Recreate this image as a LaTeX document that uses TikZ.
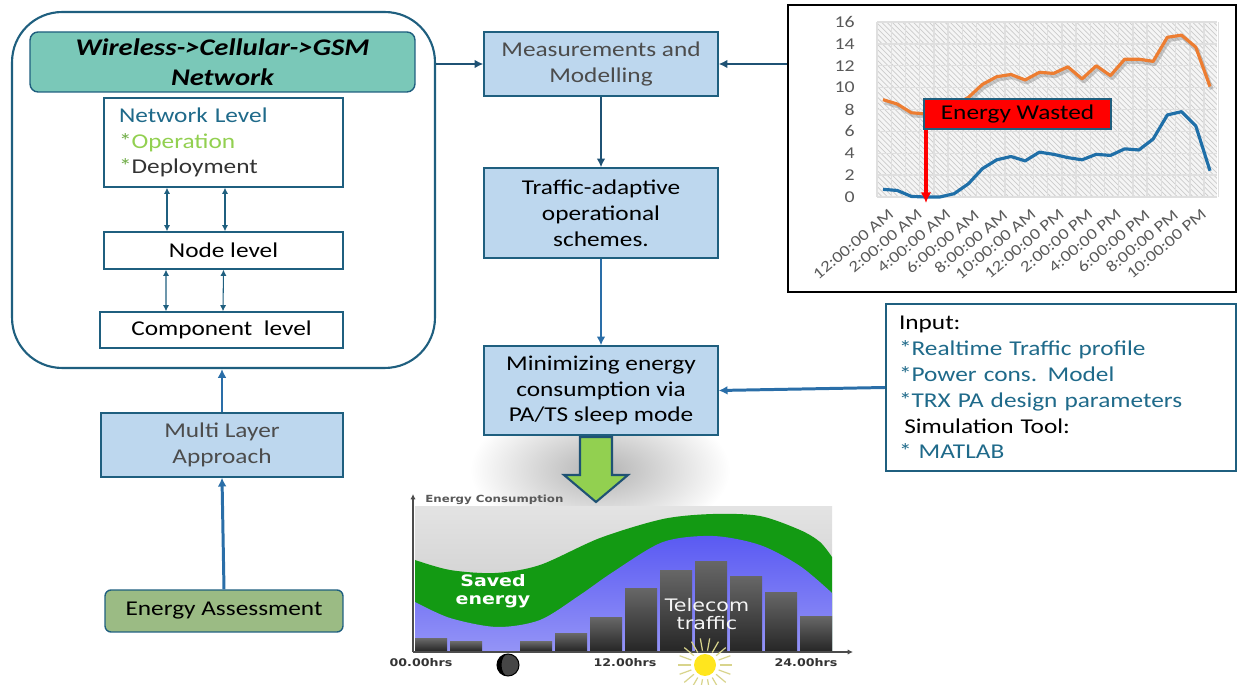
\documentclass[tikz,border=0pt]{standalone}
\usepackage{fontspec}
\setmainfont{Carlito}[FakeStretch=1.2]
\newfontfamily\graphfont{DejaVu Sans}[FakeStretch=1.2]
\usetikzlibrary{arrows.meta,patterns}
\definecolor{FrameColor}{HTML}{1F5F7F}
\definecolor{ArrowDark}{HTML}{1F5274}
\definecolor{ArrowBlue}{HTML}{2A6EA8}
\definecolor{HeadColor}{HTML}{7AC8B8}
\definecolor{StepColor}{HTML}{BDD7EE}
\definecolor{AssessColor}{HTML}{9BBB84}
\definecolor{TextBlue}{HTML}{1F6A8A}
\definecolor{OpGreen}{HTML}{92D050}
\definecolor{StarGreen}{HTML}{70AD47}
\definecolor{LoadOrange}{HTML}{ED7D31}
\definecolor{LoadBlue}{HTML}{1F6FA8}
\definecolor{SavedGreen}{HTML}{139A13}
\definecolor{TrafficBlue}{HTML}{5A5AF2}
\definecolor{SunYellow}{HTML}{FFE61E}
\tikzstyle{plain_box}=[rectangle,
                       draw=FrameColor,
                       line width=0.8pt,
                       fill=white,
                       inner sep=0pt,
                       align=center,
                       font=\fontsize{12}{14.7}\selectfont, ]
\tikzstyle{step_box}=[plain_box, fill=StepColor]
\tikzstyle{flow_arrow}=[line width=1.7pt, -{Latex[length=5pt,width=5pt]}]
\tikzstyle{level_arrow}=[line width=0.6pt, FrameColor,
                         {Latex[length=3.5pt,width=3.5pt]}-{Latex[length=3.5pt,width=3.5pt]}]

\begin{document}
\begin{tikzpicture}[x=0.02cm, y=-0.02cm]
    \useasboundingbox (0,0) rectangle (1238,685);

    % grey haze behind the big arrow
    \shade[inner color=gray!60, outer color=white] (470,400) rectangle (730,540);

    % ---------------------------------------------------------------------------------------------------------
    %  GSM network levels
    \node at (223.5, 190) (outer) [rectangle, draw=FrameColor, line width=1.2pt, rounded corners=1cm,
                                   minimum width=8.46cm, minimum height=7.12cm] {};
    \node at (222.5, 62) (gsm) [rectangle, draw=FrameColor, line width=0.8pt, fill=HeadColor, rounded corners=0.16cm,
                                minimum width=7.7cm, minimum height=1.2cm, align=center,
                                font=\fontsize{13.6}{17}\selectfont\bfseries\itshape] {Wireless->Cellular->GSM\\Network};
    \node at (223.5, 142.5) (netlevel) [plain_box, minimum width=4.78cm, minimum height=1.78cm, text width=4.18cm, align=left]
        {\textcolor{TextBlue}{Network Level}\\\textcolor{StarGreen}{*}\textcolor{OpGreen}{Operation}\\\textcolor{StarGreen}{*}\textcolor{black!80}{Deployment}};
    \node at (223.5, 250.5) (nodelevel) [plain_box, minimum width=4.78cm, minimum height=0.74cm] {Node level};
    \node at (221.5, 330) (complevel) [plain_box, minimum width=4.86cm, minimum height=0.72cm] {Component\ \ level};

    \draw[level_arrow] ([xshift=-1.13cm]netlevel.south) -- ([xshift=-1.13cm]nodelevel.north);
    \draw[level_arrow] ([xshift=0.03cm]netlevel.south) -- ([xshift=0.03cm]nodelevel.north);
    \draw[level_arrow] ([xshift=-1.15cm]nodelevel.south) -- ([xshift=-1.11cm]complevel.north);
    \draw[level_arrow] ([xshift=0.0cm]nodelevel.south) -- ([xshift=0.03cm]complevel.north);

    \node at (222, 445) (multilayer) [step_box, minimum width=4.84cm, minimum height=1.28cm, text=black!70] {Multi Layer\\Approach};
    \node at (224, 611) (assess) [plain_box, fill=AssessColor, rounded corners=0.12cm,
                                  minimum width=4.76cm, minimum height=0.84cm] {Energy Assessment};

    % ---------------------------------------------------------------------------------------------------------
    %  middle column
    \node at (601, 64) (meas) [step_box, minimum width=4.68cm, minimum height=1.28cm, text=black!70] {Measurements\ and\\Modelling};
    \node at (601, 213) (traffic) [step_box, minimum width=4.68cm, minimum height=1.8cm] {Traffic-adaptive\\operational\\schemes.};
    \node at (601, 390.5) (minimize) [step_box, minimum width=4.68cm, minimum height=1.78cm] {Minimizing energy\\consumption via\\PA/TS sleep mode};

    \node at (1061, 387.5) (input) [plain_box, line width=1.2pt, minimum width=7cm, minimum height=3.34cm,
                                    text width=6.48cm, align=left, text=TextBlue]
        {\textcolor{black}{Input:}\\{*}Realtime Traffic profile\\{*}Power cons. Model\\{*}TRX PA design parameters\\\hspace*{3pt}\textcolor{black}{Simulation Tool:}\\{*} MATLAB};

    % ---------------------------------------------------------------------------------------------------------
    %  hourly load chart
    \node at (1012, 148.5) (chart) [rectangle, draw=black, line width=1pt, minimum width=8.96cm, minimum height=5.74cm] {};
    \begin{scope}[shift={(883,197)}, x=0.2844cm, y=0.2188cm]
        \fill[gray!8] (-0.42,0) rectangle (23.49,16);
        \fill[pattern=north west lines, pattern color=gray!40] (-0.42,0) rectangle (23.49,16);
        \foreach \v in {0,2,...,16} {
            \draw[gray!25, line width=0.8pt] (-0.42,\v) -- (23.49,\v);
        }
        \foreach \k in {0,...,24} {
            \draw[gray!25, line width=0.8pt] (\k-0.42,0) -- (\k-0.42,16);
        }
        \foreach \v in {0,2,...,16} {
            \node at (-1.55,\v) (tick\v) [anchor=east, text=gray!70!black, font=\fontsize{9.4}{10}\selectfont] {\v};
        }
        \foreach \t [count=\k from 0] in {12:00:00 AM, 2:00:00 AM, 4:00:00 AM, 6:00:00 AM, 8:00:00 AM, 10:00:00 AM,
                                          12:00:00 PM, 2:00:00 PM, 4:00:00 PM, 6:00:00 PM, 8:00:00 PM, 10:00:00 PM} {
            \node at (2*\k+0.35,-1.0) (hour\k) [anchor=north east, rotate=40, inner sep=0pt, text=gray!70!black,
                                                font=\fontsize{9}{9}\selectfont] {\t};
        }
        % drop shadow of the upper curve
        \draw[gray, opacity=0.4, line width=2.2pt, line join=round, shift={(0.12,-0.25)}] plot coordinates {
            (0,8.9) (1,8.5) (2,7.7) (3,7.6) (4,7.9) (5,8.4) (6,9.1) (7,10.3) (8,11.0) (9,11.2) (10,10.7) (11,11.4)
            (12,11.3) (13,11.9) (14,10.8) (15,12.0) (16,11.1) (17,12.6) (18,12.6) (19,12.4) (20,14.6) (21,14.8) (22,13.7) (23,10.1)};
        \draw[LoadOrange, line width=1.8pt, line join=round] plot coordinates {
            (0,8.9) (1,8.5) (2,7.7) (3,7.6) (4,7.9) (5,8.4) (6,9.1) (7,10.3) (8,11.0) (9,11.2) (10,10.7) (11,11.4)
            (12,11.3) (13,11.9) (14,10.8) (15,12.0) (16,11.1) (17,12.6) (18,12.6) (19,12.4) (20,14.6) (21,14.8) (22,13.7) (23,10.1)};
        \draw[LoadBlue, line width=1.8pt, line join=round] plot coordinates {
            (0,0.7) (1,0.6) (2,0.05) (3,0) (4,0) (5,0.3) (6,1.2) (7,2.6) (8,3.4) (9,3.7) (10,3.3) (11,4.1)
            (12,3.9) (13,3.6) (14,3.4) (15,3.9) (16,3.8) (17,4.4) (18,4.3) (19,5.3) (20,7.5) (21,7.8) (22,6.5) (23,2.4)};
    \end{scope}
    \node at (1017.5, 114) (wasted) [rectangle, fill=red, draw=FrameColor, line width=0.8pt, minimum width=3.74cm,
                                     minimum height=0.48cm, font=\fontsize{12}{14}\selectfont] {Energy Wasted};
    \coordinate (nightzero) at (926, 203);
    \draw[red, line width=1.8pt, -{Latex[length=6pt,width=6pt]}] (wasted.south west -| nightzero) -- (nightzero);

    % ---------------------------------------------------------------------------------------------------------
    %  daily consumption profile
    \shade[top color=gray!22, bottom color=gray!45] (415,507) rectangle (832,651);
    \fill[SavedGreen] plot[smooth] coordinates {(415,560) (450,570) (495,573) (540,565) (600,538) (663,519) (713,514)
        (760,516) (800,530) (820,542) (832,557)} -- (832,651) -- (415,651) -- cycle;
    \shade[top color=TrafficBlue, bottom color=TrafficBlue!65!white] plot[smooth] coordinates {(415,602) (450,618) (497,627)
        (540,620) (580,595) (613,572) (663,542) (713,536) (760,545) (800,566) (832,593)} -- (832,651) -- (415,651) -- cycle;
    \foreach \bx/\by in {415/639, 450/642, 520/642, 555/634, 590/618, 625/589, 660/571, 695/562, 730/577, 765/593, 800/617} {
        \shade[top color=black!60, bottom color=black!85] (\bx,\by) rectangle (\bx+32,651);
    }
    \draw[gray!60!black, line width=1pt, -{Latex[length=3pt,width=3pt]}] (413,652) -- (413,494);
    \draw[gray!60!black, line width=1pt, -{Latex[length=3pt,width=3pt]}] (413,652) -- (853,652);

    \node at (493, 591) (saved) [text=white, align=center, font=\graphfont\fontsize{9}{10.2}\selectfont\bfseries] {Saved\\energy};
    \node at (707, 614) (telecom) [text=white!92!gray, align=center, font=\graphfont\fontsize{9.8}{10.4}\selectfont] {Telecom\\traffic};
    \node at (425, 500) (consumption) [anchor=west, inner sep=0pt, text=gray!70!black,
                                       font=\graphfont\fontsize{5.6}{6}\selectfont\bfseries] {Energy Consumption};
    \node at (421, 663) (midnight) [text=gray!40!black, font=\graphfont\fontsize{6}{7}\selectfont\bfseries] {00.00hrs};
    \node at (625, 663) (noon) [text=gray!40!black, font=\graphfont\fontsize{6}{7}\selectfont\bfseries] {12.00hrs};
    \node at (806, 663) (nextday) [text=gray!40!black, font=\graphfont\fontsize{6}{7}\selectfont\bfseries] {24.00hrs};

    % moon and sun
    \fill[gray!55!black] (508, 665) circle[radius=0.22cm];
    \fill[black] (508, 654) arc[start angle=90, end angle=270, radius=0.22cm]
                 arc[start angle=270, end angle=90, x radius=0.13cm, y radius=0.22cm];
    \draw[black, line width=0.6pt] (508, 665) circle[radius=0.22cm];
    \foreach \a in {0,20,...,340} {
        \draw[yellow!50!gray!70, line width=0.7pt] (705, 665) ++(\a:0.29cm) -- ++(\a:0.25cm);
    }
    \fill[SunYellow] (705, 665) circle[radius=0.22cm];

    % big arrow down to the profile
    \draw[fill=OpGreen, draw=ArrowDark, line width=1.2pt, line join=miter]
        (580,437) -- (612,437) -- (612,475) -- (628,475) -- (596,502) -- (564,475) -- (580,475) -- cycle;

    % ---------------------------------------------------------------------------------------------------------
    \draw[flow_arrow, ArrowDark] (meas.west -| outer.east) -- (meas.west);
    \draw[flow_arrow, ArrowDark] (meas.east -| chart.west) -- (meas.east);
    \draw[flow_arrow, ArrowDark] (meas.south) -- (traffic.north);
    \draw[flow_arrow, ArrowBlue] (traffic.south) -- (minimize.north);
    \draw[flow_arrow, ArrowBlue] (input.west) -- (minimize.east);
    \draw[flow_arrow, ArrowBlue] (multilayer.north) -- (multilayer.north |- outer.south);
    \draw[flow_arrow, ArrowBlue] (assess.north) -- (multilayer.south);
\end{tikzpicture}
\end{document}
